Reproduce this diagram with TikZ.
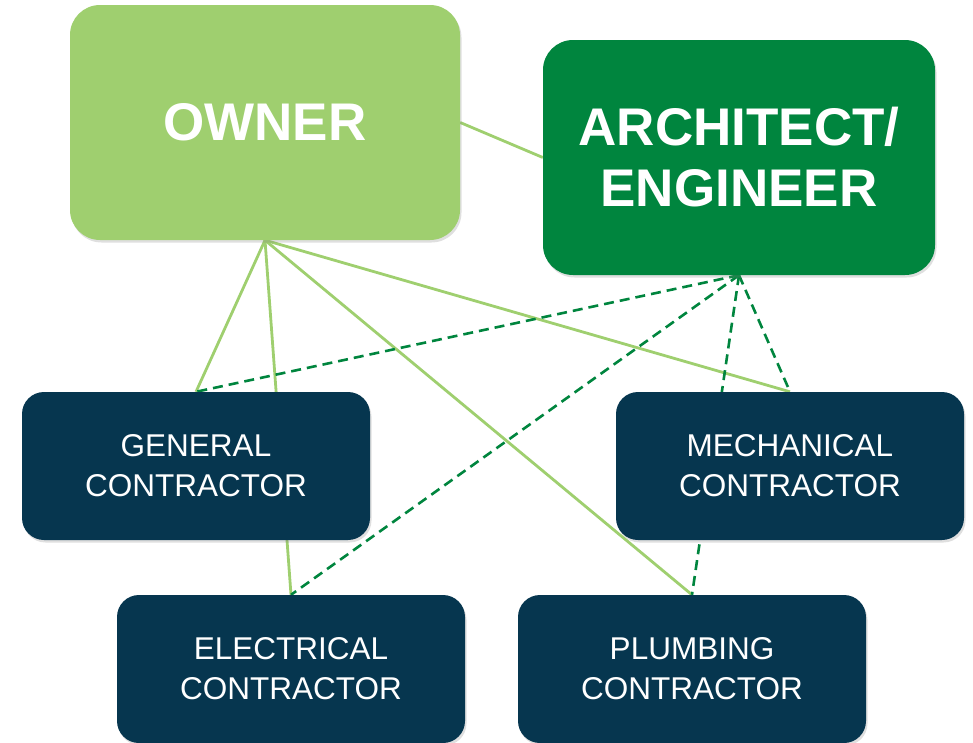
\documentclass[tikz,border=0pt]{standalone}
\usepackage{fontspec}
\setmainfont{Liberation Sans}
\usetikzlibrary{shadows, backgrounds}

\begin{document}
\begin{tikzpicture}
  [x=1pt, y=-1pt,
    every node/.style={text=white, align=center}]

    \definecolor{ownergreen}{HTML}{9FCF6F}
    \definecolor{archgreen}{HTML}{00853E}
    \definecolor{tradenavy}{HTML}{06364F}

  \tikzset{
    base/.style={
      rectangle, inner sep=0pt,
      drop shadow={opacity=0.25, shadow xshift=1.5pt, shadow yshift=-2.5pt},
    },
    party/.style={base,
      minimum width=390pt, minimum height=235pt,
      rounded corners=30pt,
      font=\fontsize{53}{61}\selectfont\bfseries,
    },
    trade/.style={base,
      fill=tradenavy,
      minimum width=348pt, minimum height=148pt,
      rounded corners=22pt,
      font=\fontsize{31.5}{40}\selectfont,
    },
    contract/.style={draw=ownergreen, line width=2.8pt},
    consult/.style={draw=archgreen, line width=2.6pt, dash pattern=on 10pt off 6pt},
  }

  \useasboundingbox (0,0) rectangle (973,742);

  \node[party, fill=ownergreen] (owner) at (265,122.5) {OWNER};
  \node[party, fill=archgreen, minimum width=392pt] (arch) at (739,157.5) {ARCHITECT/\\ENGINEER};

  \node[trade] (general) at (196,466) {GENERAL\\CONTRACTOR};
  \node[trade] (mech) at (790,466) {MECHANICAL\\CONTRACTOR};
  \node[trade] (elec) at (291,669) {ELECTRICAL\\CONTRACTOR};
  \node[trade] (plumb) at (692,669) {PLUMBING\\CONTRACTOR};

  % contracts with the owner
  \begin{scope}[on background layer]
    \draw[contract] (owner.east) -- (arch.west);
    \draw[contract] (owner.south) -- (general.north);
    \draw[contract] (owner.south) -- (elec.north);
    \draw[contract] (owner.south) -- (plumb.north);
    \draw[contract] (owner.south) -- (mech.north);

    % architect/engineer links
    \draw[consult] (arch.south) -- (general.north);
    \draw[consult] (arch.south) -- (elec.north);
    \draw[consult] (arch.south) -- (plumb.north);
    \draw[consult] (arch.south) -- (mech.north);
  \end{scope}
\end{tikzpicture}
\end{document}
